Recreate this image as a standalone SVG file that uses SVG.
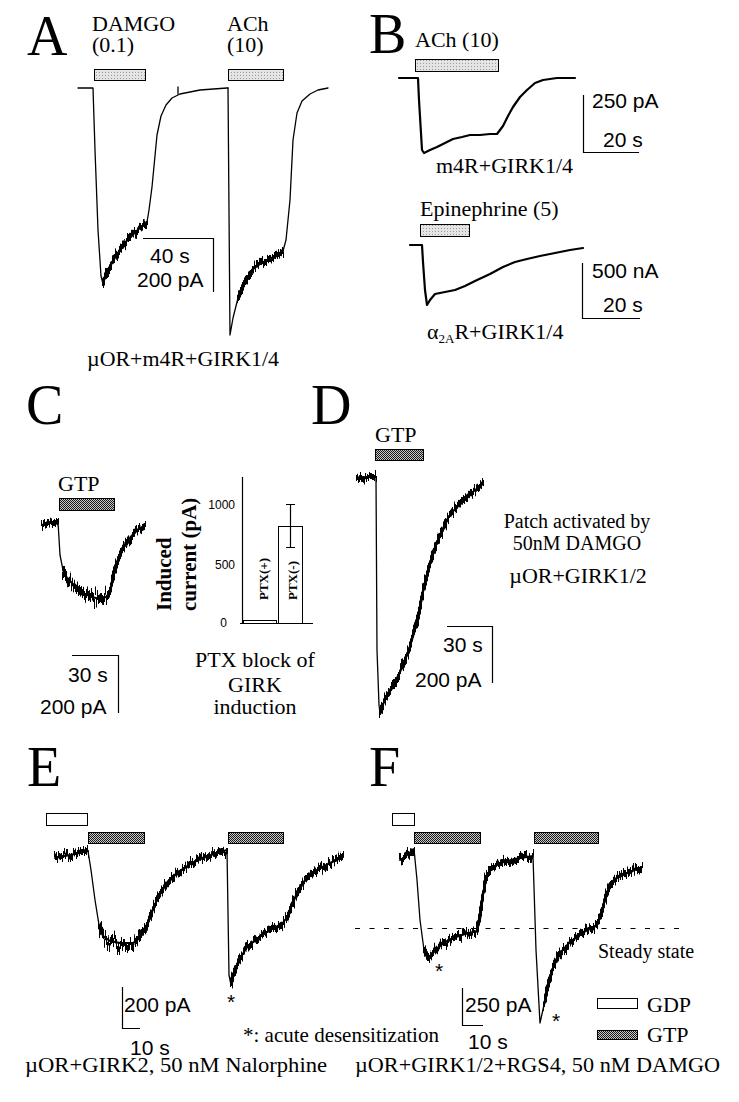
<svg xmlns="http://www.w3.org/2000/svg" width="739" height="1102" viewBox="0 0 739 1102">
<style>
.serif{font-family:"Liberation Serif","Times New Roman",serif;fill:#000}
.sans{font-family:"Liberation Sans",Arial,sans-serif;fill:#000}
.big{font-size:56px}
.lab{font-size:22px}
.sc{font-size:21px}
.ast{font-family:"Liberation Sans",Arial,sans-serif;font-size:21px;fill:#000}
.tr{fill:none;stroke:#000;stroke-width:1.3;stroke-linejoin:round;stroke-linecap:round}
.tb{fill:none;stroke:#000;stroke-width:2.2;stroke-linejoin:round;stroke-linecap:round}
.nz{fill:none;stroke:#000;stroke-width:2;stroke-linejoin:round;stroke-linecap:round}
.bar{stroke:#000;stroke-width:1}
.scale{fill:none;stroke:#000;stroke-width:1.2}
</style>
<defs>
<pattern id="lt" width="3" height="3" patternUnits="userSpaceOnUse"><rect width="3" height="3" fill="#e4e4e4"/><rect width="1" height="1" fill="#9a9a9a"/></pattern>
<pattern id="dk" width="2" height="2" patternUnits="userSpaceOnUse"><rect width="2" height="2" fill="#c8c8c8"/><rect width="1" height="1" fill="#1a1a1a"/><rect x="1" y="1" width="1" height="1" fill="#1a1a1a"/></pattern>
<filter id="n1" filterUnits="userSpaceOnUse" x="0" y="0" width="739" height="1102" color-interpolation-filters="sRGB">
<feTurbulence type="fractalNoise" baseFrequency="0.9 0.01" numOctaves="1" seed="2" result="t"/>
<feColorMatrix in="t" type="matrix" values="0 0 0 0 0.5 0 1 0 0 0 0 0 0 0 0 0 0 0 0 1" result="m"/>
<feDisplacementMap in="SourceGraphic" in2="m" scale="16" xChannelSelector="R" yChannelSelector="G" result="d"/>
<feMorphology in="d" operator="dilate" radius="0.4 1.8" result="dd"/>
<feComponentTransfer in="dd" result="k"><feFuncA type="linear" slope="3"/></feComponentTransfer>
<feMerge><feMergeNode in="k"/><feMergeNode in="SourceGraphic"/></feMerge>
</filter>
<filter id="n2" filterUnits="userSpaceOnUse" x="0" y="0" width="739" height="1102" color-interpolation-filters="sRGB">
<feTurbulence type="fractalNoise" baseFrequency="0.9 0.01" numOctaves="1" seed="7" result="t"/>
<feColorMatrix in="t" type="matrix" values="0 0 0 0 0.5 0 1 0 0 0 0 0 0 0 0 0 0 0 0 1" result="m"/>
<feDisplacementMap in="SourceGraphic" in2="m" scale="32" xChannelSelector="R" yChannelSelector="G" result="d"/>
<feMorphology in="d" operator="dilate" radius="0.4 3" result="dd"/>
<feComponentTransfer in="dd" result="k"><feFuncA type="linear" slope="3"/></feComponentTransfer>
<feMerge><feMergeNode in="k"/><feMergeNode in="SourceGraphic"/></feMerge>
</filter>
</defs>
<rect width="739" height="1102" fill="#fff"/>

<g id="panelA">
<text class="serif big" x="27" y="55">A</text>
<text class="serif lab" x="92" y="31">DAMGO</text>
<text class="serif lab" x="92" y="52">(0.1)</text>
<text class="serif lab" x="227" y="31">ACh</text>
<text class="serif lab" x="227" y="52">(10)</text>
<rect class="bar" x="94.5" y="69.5" width="51" height="11" fill="url(#lt)"/>
<rect class="bar" x="228.5" y="69.5" width="55" height="11" fill="url(#lt)"/>
<path class="tr" d="M78,88 L93,88 L95,150 L98,230 L101,276 L103,284"/>
<path class="nz" filter="url(#n1)" d="M103,284 L106,274 L110,266 L116,256 L123,245 L133,234 L140,228 L147,222"/>
<path class="tr" d="M147,222 L149,210 L152,187 L157,135 L161,116 L166,105 L172,98 L180,94 L200,90 L227,88 L228,88"/>
<path class="tr" d="M178,87 V94"/>
<path class="tr" d="M228,88 L230,335 L233,318 L238,298"/>
<path class="nz" filter="url(#n1)" d="M238,298 L244,284 L252,270 L260,264 L270,259 L283,251"/>
<path class="tr" d="M283,251 L286,240 L290,200 L293,140 L297,113 L302,101 L310,94 L318,90 L328,88"/>
<path class="scale" d="M143,238.5 H213.5 V292"/>
<text class="sans sc" x="150" y="263">40 s</text>
<text class="sans sc" x="137" y="287">200 pA</text>
<text class="serif" font-size="21" x="87" y="366" textLength="192" lengthAdjust="spacingAndGlyphs">µOR+m4R+GIRK1/4</text>
</g>

<g id="panelB">
<text class="serif big" x="369" y="53">B</text>
<text class="serif lab" x="415" y="47">ACh (10)</text>
<rect class="bar" x="415.5" y="59.5" width="83" height="12" fill="url(#lt)"/>
<path class="tb" d="M399,78 L418,78 L419,100 L422,150 L424,153 L430,150 L437,147 L445,143 L453,139 L462,137 L470,135 L480,135 L490,134 L497,134 L503,126 L508,116 L513,107 L520,97 L527,90 L535,83 L543,80 L557,78 L575,78"/>
<path class="scale" d="M583.5,95 V152.5 H639"/>
<text class="sans sc" x="592" y="108">250 pA</text>
<text class="sans sc" x="603" y="147">20 s</text>
<text class="serif lab" x="436" y="173">m4R+GIRK1/4</text>
<text class="serif lab" x="420" y="216">Epinephrine (5)</text>
<rect class="bar" x="420.5" y="224.5" width="49" height="12" fill="url(#lt)"/>
<path class="tb" d="M410,245 L422,245 L423,262 L425,290 L427,305 L430,300 L435,294 L445,292 L455,290 L465,286 L475,281 L490,274 L503,267 L515,262 L527,259 L540,256 L555,253 L570,250 L583,248"/>
<path class="scale" d="M582.5,263 V318.5 H640"/>
<text class="sans sc" x="592" y="278">500 nA</text>
<text class="sans sc" x="603" y="312">20 s</text>
<text class="serif lab" x="427" y="339">α<tspan font-size="13" dy="4">2A</tspan><tspan dy="-4">R+GIRK1/4</tspan></text>
</g>

<g id="panelC">
<text class="serif big" x="26" y="424">C</text>
<text class="serif lab" x="58" y="491">GTP</text>
<rect class="bar" x="59.5" y="498.5" width="55" height="12" fill="url(#dk)"/>
<path class="nz" filter="url(#n1)" d="M42,525 L50,523 L58,522"/>
<path class="tr" d="M58,522 L60,555 L63,570"/>
<path class="nz" filter="url(#n2)" d="M63,570 L67,578 L75,586 L83,593 L92,597 L100,599 L106,597 L110,592"/>
<path class="nz" filter="url(#n1)" d="M110,592 L113,578 L117,562 L122,550 L128,540 L136,531 L145,525"/>
<path class="scale" d="M72,655.5 H118.5 V713"/>
<text class="sans sc" x="68" y="682">30 s</text>
<text class="sans sc" x="40" y="714">200 pA</text>
<g id="barchart">
<path class="scale" d="M242.5,477 V623.5 M240,623.5 H313"/>
<text class="sans" font-size="12" x="235" y="509" text-anchor="end">1000</text>
<text class="sans" font-size="12" x="235" y="569" text-anchor="end">500</text>
<text class="sans" font-size="12" x="227" y="627" text-anchor="end">0</text>
<text class="serif" font-weight="bold" font-size="21" transform="translate(171,611) rotate(-90)">Induced</text>
<text class="serif" font-weight="bold" font-size="21" transform="translate(196,611) rotate(-90)">current (pA)</text>
<rect x="243.5" y="620.5" width="33" height="3" fill="none" stroke="#000" stroke-width="1"/>
<rect x="278.5" y="526.5" width="24" height="97" fill="none" stroke="#000" stroke-width="1"/>
<path class="scale" d="M290.5,504 V548 M286,504.5 H295 M286,547.5 H295"/>
<text class="serif" font-weight="bold" font-size="13" transform="translate(268,600) rotate(-90)">PTX(+)</text>
<text class="serif" font-weight="bold" font-size="13" transform="translate(297,600) rotate(-90)">PTX(-)</text>
</g>
<text class="serif lab" x="255" y="667" text-anchor="middle">PTX block of</text>
<text class="serif lab" x="255" y="692" text-anchor="middle">GIRK</text>
<text class="serif lab" x="255" y="714" text-anchor="middle">induction</text>
</g>

<g id="panelD">
<text class="serif big" x="311" y="424">D</text>
<text class="serif lab" x="375" y="442">GTP</text>
<rect class="bar" x="375.5" y="449.5" width="48" height="11" fill="url(#dk)"/>
<path class="nz" filter="url(#n1)" d="M357,478 L366,477 L376,477"/>
<path class="tr" d="M376,477 L377,650 L379,705 L380,713"/>
<path class="nz" filter="url(#n1)" d="M380,713 L385,699 L392,688 L400,672 L407,655 L412,640 L417,622 L423,592 L428,570 L434,550 L440,535 L448,518 L458,505 L470,494 L483,484"/>
<path class="scale" d="M447,626.5 H492.5 V683"/>
<text class="sans sc" x="443" y="652">30 s</text>
<text class="sans sc" x="415" y="687">200 pA</text>
<text class="serif" font-size="20" x="577" y="528" text-anchor="middle">Patch activated by</text>
<text class="serif" font-size="20" x="577" y="550" text-anchor="middle">50nM DAMGO</text>
<text class="serif lab" x="578" y="583" text-anchor="middle">µOR+GIRK1/2</text>
</g>

<g id="panelE">
<text class="serif big" x="27" y="786">E</text>
<rect class="bar" x="46.5" y="813.5" width="41" height="12" fill="#fff"/>
<rect class="bar" x="88.5" y="832.5" width="56" height="11" fill="url(#dk)"/>
<rect class="bar" x="228.5" y="832.5" width="55" height="11" fill="url(#dk)"/>
<path class="nz" filter="url(#n1)" d="M55,858 L65,856 L75,854 L88,851"/>
<path class="tr" d="M88,851 L91,870 L95,900 L99,925"/>
<path class="nz" filter="url(#n2)" d="M99,925 L103,936 L110,941 L120,943 L133,943 L140,938"/>
<path class="nz" filter="url(#n1)" d="M140,938 L146,928 L152,912 L158,897 L166,885 L177,873 L190,864 L205,857 L220,852 L227,850"/>
<path class="tr" d="M227,850 L229,975 L231,985"/>
<path class="nz" filter="url(#n1)" d="M231,985 L234,972 L240,958 L248,946 L258,938 L270,930 L282,924 L288,916 L292,905 L297,893 L305,880 L317,870 L330,863 L343,857"/>
<text class="ast" x="227" y="1009">*</text>
<path class="scale" d="M122.5,987 V1028.5 H140"/>
<text class="sans sc" x="124" y="1012">200 pA</text>
<text class="sans sc" x="130" y="1055">10 s</text>
<text class="serif" font-size="21" x="243" y="1042">*: acute desensitization</text>
<text class="serif" font-size="22" x="25" y="1072" textLength="302" lengthAdjust="spacingAndGlyphs">µOR+GIRK2, 50 nM Nalorphine</text>
</g>

<g id="panelF">
<text class="serif big" x="369" y="786">F</text>
<rect class="bar" x="392.5" y="813.5" width="22" height="12" fill="#fff"/>
<rect class="bar" x="414.5" y="832.5" width="66" height="11" fill="url(#dk)"/>
<rect class="bar" x="534.5" y="832.5" width="64" height="11" fill="url(#dk)"/>
<path d="M355,928.5 H686" fill="none" stroke="#000" stroke-width="1" stroke-dasharray="5 9.5"/>
<path class="nz" filter="url(#n1)" d="M400,860 L406,856 L414,849"/>
<path class="tr" d="M414,849 L417,880 L420,920 L424,950"/>
<path class="nz" filter="url(#n1)" d="M424,950 L428,960 L434,952 L442,944 L453,938 L465,934 L477,931 L480,915 L483,895 L486,878 L491,868 L500,863 L515,859 L533,856"/>
<path class="tr" d="M533,856 L536,950 L540,1023 L544,1005"/>
<path class="nz" filter="url(#n1)" d="M544,1005 L548,985 L553,968 L560,953 L570,942 L582,933 L597,925 L601,915 L605,900 L609,886 L615,879 L625,874 L642,867"/>
<text class="ast" x="435" y="978">*</text>
<text class="ast" x="552" y="1028">*</text>
<text class="serif" font-size="20" x="598" y="958">Steady state</text>
<path class="scale" d="M462.5,988 V1025.5 H483"/>
<text class="sans sc" x="465" y="1012">250 pA</text>
<text class="sans sc" x="468" y="1049">10 s</text>
<g id="legend">
<rect class="bar" x="597.5" y="998.5" width="40" height="10" fill="#fff"/>
<text class="serif lab" x="647" y="1012">GDP</text>
<rect class="bar" x="597.5" y="1030.5" width="40" height="9" fill="url(#dk)"/>
<text class="serif lab" x="647" y="1042">GTP</text>
</g>
<text class="serif" font-size="22" x="355" y="1072" textLength="365" lengthAdjust="spacingAndGlyphs">µOR+GIRK1/2+RGS4, 50 nM DAMGO</text>
</g>
</svg>
